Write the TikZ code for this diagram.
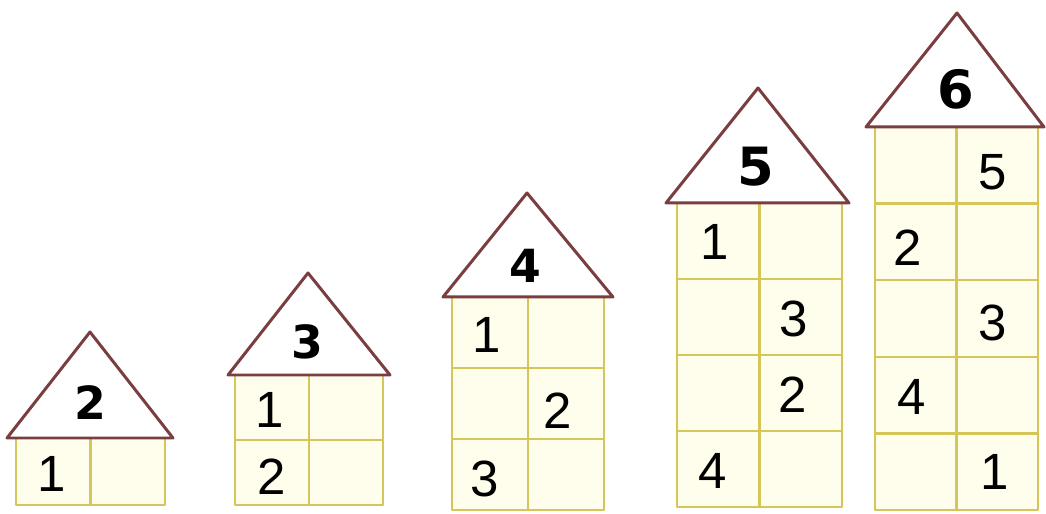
\documentclass[tikz,border=0pt]{standalone}
\usepackage{fontspec}
\setmainfont{Liberation Sans}
\newfontfamily\roofface{DejaVu Sans}
\definecolor{gridline}{HTML}{D6C65A}
\definecolor{roofline}{HTML}{7A3E40}
\definecolor{cellfill}{HTML}{FFFDEB}

\begin{document}
\begin{tikzpicture}[scale=1.0, line join=round,
  cellgrid/.style={draw=gridline, line width=1.3pt, fill=cellfill},
  roofline/.style={draw=roofline, line width=1.7pt, fill=white},
  num/.style={font=\fontsize{29}{29}\selectfont, inner sep=0pt},
  roofnum/.style={font=\roofface\fontsize{26}{26}\selectfont\bfseries, inner sep=0pt},
  bigroofnum/.style={roofnum, font=\roofface\fontsize{30}{30}\selectfont\bfseries}]
\useasboundingbox (0,0) rectangle (20.92,10.28);
% house 2
\draw[cellgrid, shift={(0.32,0.18)}] (0,0) rectangle (2.98,1.34) (0,0) grid[xstep=1.49, ystep=1.34] (2.98,1.34);
\draw[roofline] (0.14,1.52) -- (1.80,3.64) -- (3.46,1.52) -- cycle;
\node[roofnum] (roof2) at (1.80,2.22) {2};
\node[num] (n2a) at (1.04,0.80) {1};
% house 3
\draw[cellgrid, shift={(4.70,0.18)}] (0,0) rectangle (2.96,2.60) (0,0) grid[xstep=1.48, ystep=1.30] (2.96,2.60);
\draw[roofline] (4.56,2.78) -- (6.16,4.82) -- (7.80,2.78) -- cycle;
\node[roofnum] (roof3) at (6.14,3.44) {3};
\node[num] (n3a) at (5.40,2.08) {1};
\node[num] (n3b) at (5.44,0.74) {2};
% house 4
\draw[cellgrid, shift={(9.04,0.08)}] (0,0) rectangle (3.04,4.26) (0,0) grid[xstep=1.52, ystep=1.42] (3.04,4.26);
\draw[roofline] (8.86,4.34) -- (10.54,6.42) -- (12.26,4.34) -- cycle;
\node[roofnum] (roof4) at (10.50,4.96) {4};
\node[num] (n4a) at (9.74,3.58) {1};
\node[num] (n4b) at (11.16,2.06) {2};
\node[num] (n4c) at (9.70,0.70) {3};
% house 5
\draw[cellgrid, shift={(13.54,0.14)}] (0,0) rectangle (3.30,6.08) (0,0) grid[xstep=1.65, ystep=1.52] (3.30,6.08);
\draw[roofline] (13.32,6.22) -- (15.16,8.52) -- (16.98,6.22) -- cycle;
\node[bigroofnum] (roof5) at (15.12,6.94) {5};
\node[num] (n5a) at (14.30,5.44) {1};
\node[num] (n5b) at (15.88,3.90) {3};
\node[num] (n5c) at (15.86,2.38) {2};
\node[num] (n5d) at (14.26,0.86) {4};
% house 6
\draw[cellgrid, shift={(17.50,0.08)}] (0,0) rectangle (3.26,7.66) (0,0) grid[xstep=1.63, ystep=1.532] (3.26,7.66);
\draw[roofline] (17.32,7.74) -- (19.14,10.02) -- (20.88,7.74) -- cycle;
\node[bigroofnum] (roof6) at (19.12,8.50) {6};
\node[num] (n6a) at (19.86,6.84) {5};
\node[num] (n6b) at (18.16,5.32) {2};
\node[num] (n6c) at (19.86,3.82) {3};
\node[num] (n6d) at (18.24,2.34) {4};
\node[num] (n6e) at (19.90,0.84) {1};
\end{tikzpicture}
\end{document}
